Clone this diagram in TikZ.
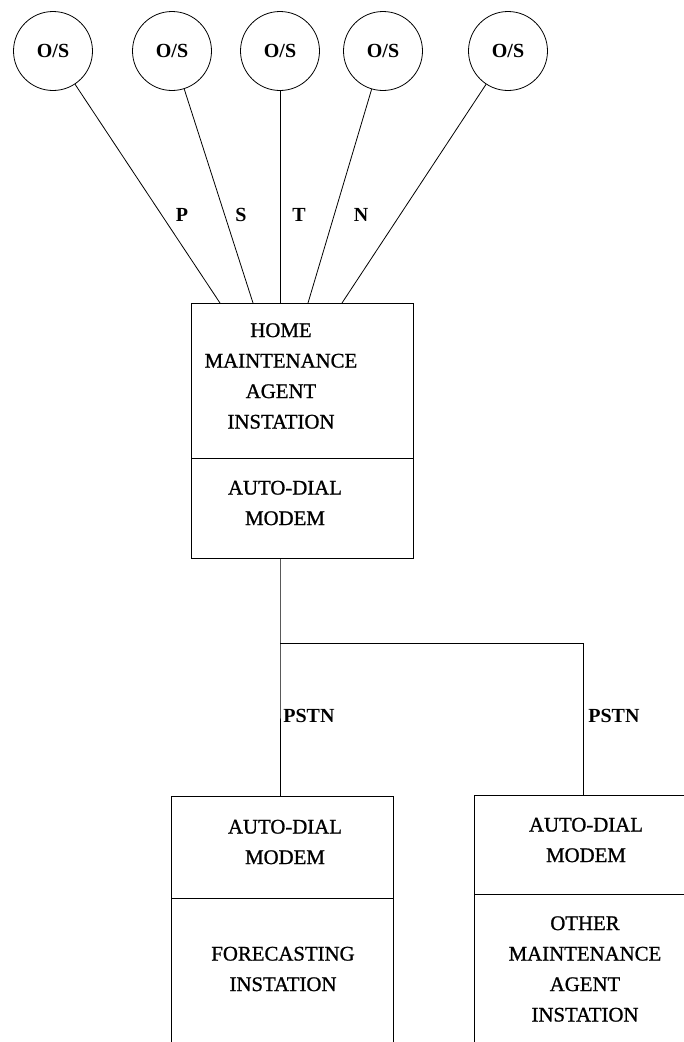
\documentclass[tikz,border=0pt]{standalone}
\usepackage{fontspec}
\setmainfont{Liberation Serif}
\newfontfamily\scanserif[FakeBold=1]{Liberation Serif}
\usetikzlibrary{positioning,calc}

\begin{document}
\begin{tikzpicture}[x=1pt, y=-1pt, line width=0.8pt,
    site/.style={draw, circle, minimum size=79pt, inner sep=0pt, font=\fontsize{20}{24}\selectfont\bfseries},
    unit/.style={draw, rectangle, minimum width=222pt, inner sep=0pt},
    boxtext/.style={align=center, inner sep=0pt, font=\scanserif\fontsize{20.8}{30.5}\selectfont},
    tag/.style={inner sep=0pt, font=\fontsize{20}{24}\selectfont\bfseries}]
    \useasboundingbox (0,0) rectangle (684,1042);
    \clip (0,0) rectangle (684,1042);

    % O/S sites
    \node[site] (os1) at (53,51) {O/S};
    \node[site] (os2) at (172,51) {O/S};
    \node[site] (os3) at (280,51) {O/S};
    \node[site] (os4) at (383,51) {O/S};
    \node[site] (os5) at (508,51) {O/S};

    % Home instation
    \node[unit, minimum height=155pt] (homeagent) at (302,380.5) {};
    \node[unit, minimum height=100pt] (homemodem) at (302,508) {};
    \node[boxtext] (hometxt) at (281,376) {HOME\\MAINTENANCE\\AGENT\\INSTATION};
    \node[boxtext] (homemodemtxt) at (285,503) {AUTO-DIAL\\MODEM};

    % lines into the home box
    \coordinate (h1) at (220,303);
    \coordinate (h2) at (253,303);
    \coordinate (h3) at (280,303);
    \coordinate (h4) at (308,303);
    \coordinate (h5) at (342,303);
    \draw (os1) -- (h1);
    \draw (os2) -- (h2);
    \draw (os3) -- (h3);
    \draw (os4) -- (h4);
    \draw (os5) -- (h5);
    \node[tag] (p) at (182,215) {P};
    \node[tag] (s) at (241,215) {S};
    \node[tag] (t) at (299,215) {T};
    \node[tag] (n) at (361,215) {N};

    % Forecasting instation
    \node[unit, minimum height=102pt] (fcmodem) at (282,847) {};
    \node[unit, minimum height=200pt] (fcstation) at (282,998) {};
    \node[boxtext] (fcmodemtxt) at (285,842) {AUTO-DIAL\\MODEM};
    \node[boxtext] (fctxt) at (283,969) {FORECASTING\\INSTATION};

    % Other maintenance agent instation
    \node[unit, minimum height=99pt] (ommodem) at (585,844.5) {};
    \node[unit, minimum height=200pt] (omstation) at (585,994) {};
    \node[boxtext] (ommodemtxt) at (586,840) {AUTO-DIAL\\MODEM};
    \node[boxtext] (omtxt) at (585,969) {OTHER\\MAINTENANCE\\AGENT\\INSTATION};

    % PSTN links
    \coordinate (homeout) at (280,558);
    \coordinate (split) at (280,643);
    \coordinate (fcin) at (280,796);
    \coordinate (omin) at (583,795);
    \draw (homeout) -- (split) -- (fcin);
    \draw (split) -| (omin);
    \node[tag, anchor=west] (pstn1) at (283,716) {PSTN};
    \node[tag, anchor=west] (pstn2) at (588,716) {PSTN};
\end{tikzpicture}
\end{document}
